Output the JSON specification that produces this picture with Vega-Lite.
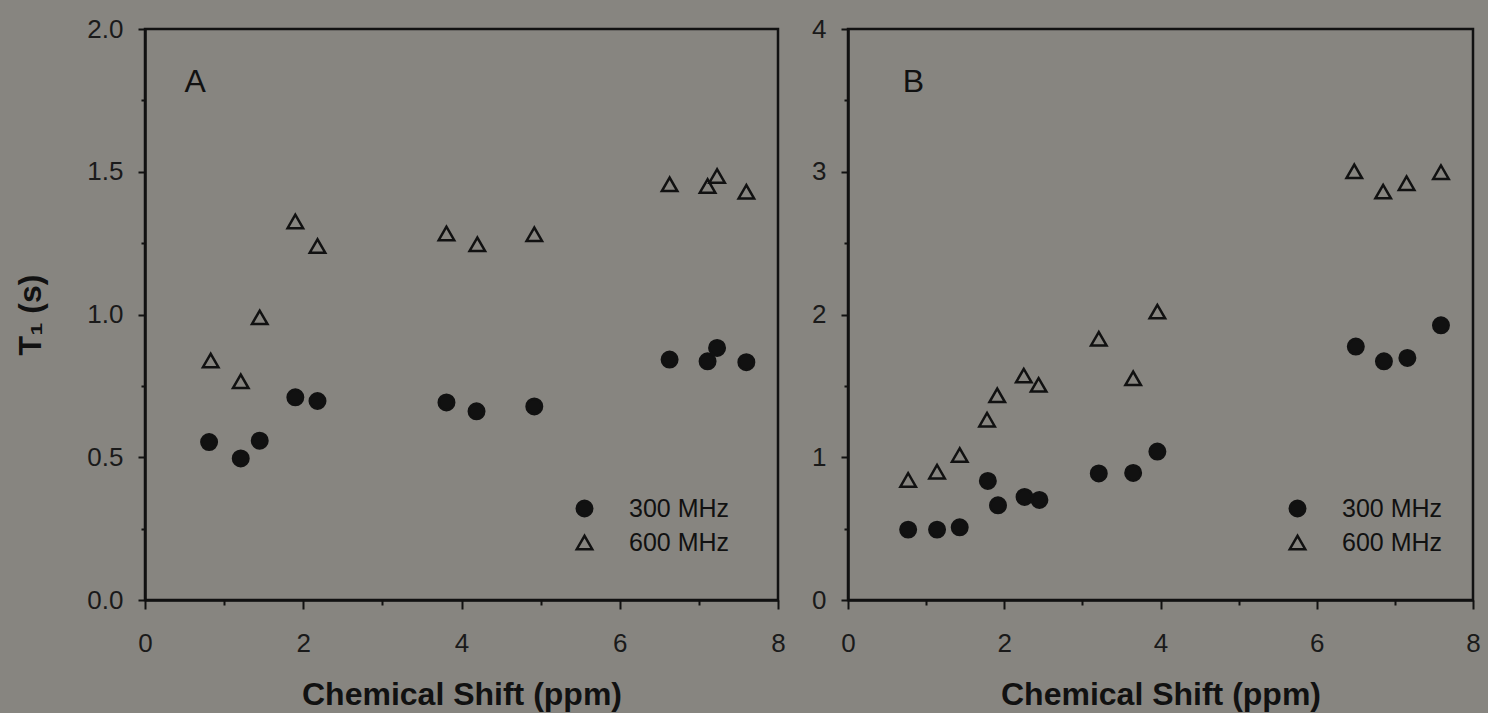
{
  "$schema": "https://vega.github.io/schema/vega-lite/v6.json",
  "background": "#878580",
  "padding": {"left": 13, "top": 14, "right": 10, "bottom": 5},
  "bounds": "flush",
  "spacing": 70,
  "datasets": {
    "A": [
      {"x": 0.81, "t1": 0.553, "freq": "300 MHz"},
      {"x": 1.21, "t1": 0.496, "freq": "300 MHz"},
      {"x": 1.45, "t1": 0.558, "freq": "300 MHz"},
      {"x": 1.90, "t1": 0.710, "freq": "300 MHz"},
      {"x": 2.18, "t1": 0.697, "freq": "300 MHz"},
      {"x": 3.81, "t1": 0.692, "freq": "300 MHz"},
      {"x": 4.19, "t1": 0.661, "freq": "300 MHz"},
      {"x": 4.92, "t1": 0.678, "freq": "300 MHz"},
      {"x": 6.63, "t1": 0.842, "freq": "300 MHz"},
      {"x": 7.11, "t1": 0.836, "freq": "300 MHz"},
      {"x": 7.23, "t1": 0.883, "freq": "300 MHz"},
      {"x": 7.60, "t1": 0.833, "freq": "300 MHz"},
      {"x": 0.83, "t1": 0.839, "freq": "600 MHz"},
      {"x": 1.21, "t1": 0.766, "freq": "600 MHz"},
      {"x": 1.45, "t1": 0.990, "freq": "600 MHz"},
      {"x": 1.90, "t1": 1.326, "freq": "600 MHz"},
      {"x": 2.18, "t1": 1.240, "freq": "600 MHz"},
      {"x": 3.81, "t1": 1.284, "freq": "600 MHz"},
      {"x": 4.20, "t1": 1.246, "freq": "600 MHz"},
      {"x": 4.92, "t1": 1.281, "freq": "600 MHz"},
      {"x": 6.63, "t1": 1.456, "freq": "600 MHz"},
      {"x": 7.11, "t1": 1.450, "freq": "600 MHz"},
      {"x": 7.23, "t1": 1.485, "freq": "600 MHz"},
      {"x": 7.60, "t1": 1.430, "freq": "600 MHz"}
    ],
    "B": [
      {"x": 0.77, "t1": 0.493, "freq": "300 MHz"},
      {"x": 1.14, "t1": 0.493, "freq": "300 MHz"},
      {"x": 1.43, "t1": 0.509, "freq": "300 MHz"},
      {"x": 1.79, "t1": 0.834, "freq": "300 MHz"},
      {"x": 1.92, "t1": 0.663, "freq": "300 MHz"},
      {"x": 2.26, "t1": 0.722, "freq": "300 MHz"},
      {"x": 2.45, "t1": 0.701, "freq": "300 MHz"},
      {"x": 3.21, "t1": 0.887, "freq": "300 MHz"},
      {"x": 3.65, "t1": 0.890, "freq": "300 MHz"},
      {"x": 3.96, "t1": 1.040, "freq": "300 MHz"},
      {"x": 6.50, "t1": 1.775, "freq": "300 MHz"},
      {"x": 6.86, "t1": 1.672, "freq": "300 MHz"},
      {"x": 7.16, "t1": 1.696, "freq": "300 MHz"},
      {"x": 7.59, "t1": 1.924, "freq": "300 MHz"},
      {"x": 0.77, "t1": 0.841, "freq": "600 MHz"},
      {"x": 1.14, "t1": 0.899, "freq": "600 MHz"},
      {"x": 1.43, "t1": 1.016, "freq": "600 MHz"},
      {"x": 1.78, "t1": 1.263, "freq": "600 MHz"},
      {"x": 1.91, "t1": 1.434, "freq": "600 MHz"},
      {"x": 2.25, "t1": 1.572, "freq": "600 MHz"},
      {"x": 2.44, "t1": 1.507, "freq": "600 MHz"},
      {"x": 3.21, "t1": 1.830, "freq": "600 MHz"},
      {"x": 3.65, "t1": 1.553, "freq": "600 MHz"},
      {"x": 3.96, "t1": 2.020, "freq": "600 MHz"},
      {"x": 6.48, "t1": 3.003, "freq": "600 MHz"},
      {"x": 6.85, "t1": 2.861, "freq": "600 MHz"},
      {"x": 7.15, "t1": 2.920, "freq": "600 MHz"},
      {"x": 7.59, "t1": 2.997, "freq": "600 MHz"}
    ]
  },
  "config": {
    "font": "Liberation Sans",
    "view": {"stroke": "#111111", "strokeWidth": 2.5},
    "axis": {
      "grid": false,
      "domainColor": "#111111",
      "domainWidth": 2.5,
      "tickColor": "#111111",
      "tickWidth": 2,
      "labelColor": "#1a1a1a",
      "labelFont": "Liberation Sans",
      "labelFontSize": 26,
      "titleFont": "Liberation Sans",
      "titleFontSize": 32,
      "titleFontWeight": "bold",
      "titleColor": "#111111",
      "labelFlush": false,
      "labelOverlap": false
    },
    "legend": {
      "orient": "none",
      "labelFont": "Liberation Sans",
      "labelFontSize": 25,
      "labelColor": "#111111",
      "labelOffset": 32,
      "symbolSize": 240,
      "symbolStrokeWidth": 2.5,
      "symbolStrokeColor": "#111111",
      "rowPadding": 8,
      "padding": 0
    }
  },
  "resolve": {
    "scale": {"x": "independent", "y": "independent", "shape": "independent", "fill": "independent", "stroke": "independent"},
    "legend": {"shape": "independent", "fill": "independent", "stroke": "independent"}
  },
  "hconcat": [
    {
      "width": 633,
      "height": 571,
      "layer": [
        {
          "data": {"name": "A"},
          "mark": {"type": "point", "strokeWidth": 2.5, "size": 240, "opacity": 1},
          "encoding": {
            "x": {"field": "x", "type": "quantitative", "scale": {"domain": [0, 8], "nice": false},
              "axis": {"orient": "bottom", "values": [0, 2, 4, 6, 8], "format": "d", "tickSize": 9, "labelPadding": 21, "title": "Chemical Shift (ppm)", "titlePadding": 23}},
            "y": {"field": "t1", "type": "quantitative", "scale": {"domain": [0, 2], "nice": false},
              "axis": {"orient": "left", "values": [0, 0.5, 1, 1.5, 2], "format": ".1f", "tickSize": 7, "labelPadding": 15, "title": "T₁ (s)", "titlePadding": 39}},
            "shape": {"field": "freq", "type": "nominal", "scale": {"domain": ["300 MHz", "600 MHz"], "range": ["circle", "triangle-up"]},
              "legend": {"title": null, "orient": "none", "legendX": 427, "legendY": 467}},
            "fill": {"field": "freq", "type": "nominal", "scale": {"domain": ["300 MHz", "600 MHz"], "range": ["#111111", "transparent"]},
              "legend": {"title": null, "orient": "none", "legendX": 427, "legendY": 467}},
            "stroke": {"field": "freq", "type": "nominal", "scale": {"domain": ["300 MHz", "600 MHz"], "range": ["#111111", "#111111"]},
              "legend": {"title": null, "orient": "none", "legendX": 427, "legendY": 467}}
          }
        },
        {
          "data": {"values": [{"label": "A"}]},
          "mark": {"type": "text", "fontSize": 32, "align": "left", "baseline": "alphabetic", "color": "#111111", "font": "Liberation Sans"},
          "encoding": {
            "text": {"field": "label"},
            "x": {"datum": 0.5, "type": "quantitative",
              "axis": {"orient": "bottom", "values": [1, 3, 5, 7], "labels": false, "domain": false, "tickSize": 5, "title": null}},
            "y": {"datum": 1.78, "type": "quantitative",
              "axis": {"orient": "left", "values": [0.25, 0.75, 1.25, 1.75], "labels": false, "domain": false, "tickSize": 4, "title": null}}
          }
        }
      ],
      "resolve": {"axis": {"x": "independent", "y": "independent"}}
    },
    {
      "width": 625,
      "height": 571,
      "layer": [
        {
          "data": {"name": "B"},
          "mark": {"type": "point", "strokeWidth": 2.5, "size": 240, "opacity": 1},
          "encoding": {
            "x": {"field": "x", "type": "quantitative", "scale": {"domain": [0, 8], "nice": false},
              "axis": {"orient": "bottom", "values": [0, 2, 4, 6, 8], "format": "d", "tickSize": 9, "labelPadding": 21, "title": "Chemical Shift (ppm)", "titlePadding": 23}},
            "y": {"field": "t1", "type": "quantitative", "scale": {"domain": [0, 4], "nice": false},
              "axis": {"orient": "left", "values": [0, 1, 2, 3, 4], "format": "d", "tickSize": 7, "labelPadding": 15, "title": null}},
            "shape": {"field": "freq", "type": "nominal", "scale": {"domain": ["300 MHz", "600 MHz"], "range": ["circle", "triangle-up"]},
              "legend": {"title": null, "orient": "none", "legendX": 437, "legendY": 467}},
            "fill": {"field": "freq", "type": "nominal", "scale": {"domain": ["300 MHz", "600 MHz"], "range": ["#111111", "transparent"]},
              "legend": {"title": null, "orient": "none", "legendX": 437, "legendY": 467}},
            "stroke": {"field": "freq", "type": "nominal", "scale": {"domain": ["300 MHz", "600 MHz"], "range": ["#111111", "#111111"]},
              "legend": {"title": null, "orient": "none", "legendX": 437, "legendY": 467}}
          }
        },
        {
          "data": {"values": [{"label": "B"}]},
          "mark": {"type": "text", "fontSize": 32, "align": "left", "baseline": "alphabetic", "color": "#111111", "font": "Liberation Sans"},
          "encoding": {
            "text": {"field": "label"},
            "x": {"datum": 0.7, "type": "quantitative",
              "axis": {"orient": "bottom", "values": [1, 3, 5, 7], "labels": false, "domain": false, "tickSize": 5, "title": null}},
            "y": {"datum": 3.56, "type": "quantitative",
              "axis": {"orient": "left", "values": [0.5, 1.5, 2.5, 3.5], "labels": false, "domain": false, "tickSize": 4, "title": null}}
          }
        }
      ],
      "resolve": {"axis": {"x": "independent", "y": "independent"}}
    }
  ]
}
